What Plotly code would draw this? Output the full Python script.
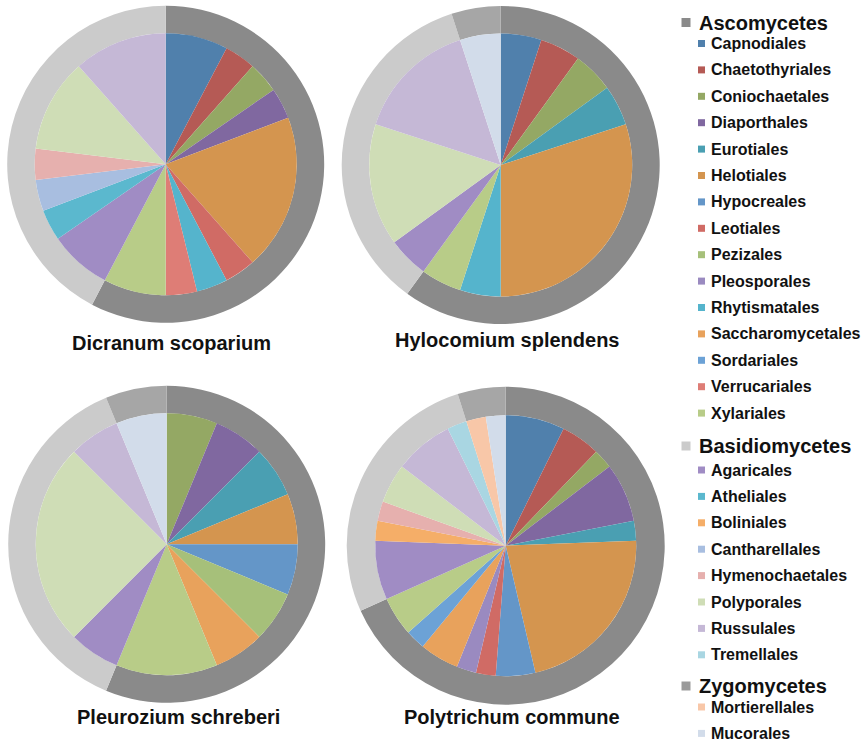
import plotly.graph_objects as go

W, H = 864, 741

orders = ["Capnodiales", "Chaetothyriales", "Coniochaetales", "Diaporthales", "Eurotiales",
          "Helotiales", "Hypocreales", "Leotiales", "Pezizales", "Pleosporales",
          "Rhytismatales", "Saccharomycetales", "Sordariales", "Verrucariales", "Xylariales",
          "Agaricales", "Atheliales", "Boliniales", "Cantharellales", "Hymenochaetales",
          "Polyporales", "Russulales", "Tremellales",
          "Mortierellales", "Mucorales"]
order_phylum = ["Ascomycetes"] * 15 + ["Basidiomycetes"] * 8 + ["Zygomycetes"] * 2
order_colors = ["#5080AC", "#B55A55", "#94A864", "#8068A0", "#4A9FB2",
                "#D4954F", "#6496C8", "#D06B65", "#A6C07A", "#9A8AC0",
                "#55B4CC", "#E8A25C", "#6CA2D6", "#DE7D76", "#B8CC88",
                "#A08CC4", "#5BB8CE", "#F5AE68", "#A8BEE0", "#E6B0AE",
                "#CFDDB6", "#C5B8D6", "#A9D6E2",
                "#F8C7A8", "#D2DCEA"]
phyla = ["Ascomycetes", "Basidiomycetes", "Zygomycetes"]
phylum_colors = ["#8A8A8A", "#CBCBCB", "#A6A6A6"]
phylum_legend_colors = ["#8A8A8A", "#CBCBCB", "#9A9A9A"]

mosses = ["Dicranum scoparium", "Hylocomium splendens", "Pleurozium schreberi", "Polytrichum commune"]

# counts per order (same order as `orders`)
dicranum =    [2, 1, 1, 1, 0, 5, 0, 1, 0, 0, 1, 0, 0, 1, 2, 2, 1, 0, 1, 1, 3, 3, 0, 0, 0]
hylocomium =  [1, 1, 1, 0, 1, 6, 0, 0, 0, 0, 1, 0, 0, 0, 1, 1, 0, 0, 0, 0, 3, 3, 0, 0, 1]
pleurozium =  [0, 0, 1, 1, 1, 1, 1, 0, 1, 0, 0, 1, 0, 0, 2, 1, 0, 0, 0, 0, 4, 1, 0, 0, 1]
polytrichum = [3, 2, 1, 3, 1, 9, 2, 1, 0, 1, 0, 2, 1, 0, 2, 3, 0, 1, 0, 1, 2, 3, 1, 1, 1]
moss_values = [dicranum, hylocomium, pleurozium, polytrichum]

# layout (pixel geometry on the page)
centers = [(165.7, 164.3), (500.7, 165.0), (166.7, 544.3), (505.7, 545.7)]
r_outer = [158.5, 159.0, 158.5, 159.0]
r_inner = [131.0, 131.5, 131.0, 130.5]
title_pos = [(171, 343), (508, 340), (178, 717), (512, 717)]


def clamp(v):
    return min(1.0, max(0.0, v))


def px(x):
    return x / W


def py(y):
    return 1 - y / H


def dom(cx, cy, r):
    return dict(x=[clamp(px(cx - r)), clamp(px(cx + r))], y=[clamp(py(cy + r)), clamp(py(cy - r))])


fig = go.Figure()
for i, vals in enumerate(moss_values):
    cx, cy = centers[i]
    ph_vals = [sum(v for v, p in zip(vals, order_phylum) if p == ph) for ph in phyla]
    ro, ri = r_outer[i], r_inner[i]
    fig.add_trace(go.Pie(
        labels=phyla, values=ph_vals, sort=False, direction="clockwise", rotation=0,
        hole=ri / ro, domain=dom(cx, cy, ro), textinfo="none", showlegend=False,
        marker=dict(colors=phylum_colors, line=dict(width=0)), hoverinfo="label+value"))
    fig.add_trace(go.Pie(
        labels=orders, values=vals, sort=False, direction="clockwise", rotation=0,
        domain=dom(cx, cy, ri), textinfo="none", showlegend=False,
        marker=dict(colors=order_colors, line=dict(width=0)), hoverinfo="label+value"))

annotations = []
shapes = []
FONT = "Liberation Sans, Arial, sans-serif"

for name, (tx, ty) in zip(mosses, title_pos):
    annotations.append(dict(text="<b>%s</b>" % name, x=px(tx), y=py(ty), xref="paper", yref="paper",
                            xanchor="center", yanchor="middle", showarrow=False,
                            font=dict(family=FONT, size=20, color="#111111")))

# legend
header_y = {"Ascomycetes": 22.5, "Basidiomycetes": 446.0, "Zygomycetes": 686.0}
first_item_y = {"Ascomycetes": 43.5, "Basidiomycetes": 470.0, "Zygomycetes": 707.0}
step = 26.4


def add_sq(x0, yc, s, color):
    shapes.append(dict(type="rect", xref="paper", yref="paper", x0=px(x0), x1=px(x0 + s),
                       y0=py(yc + s / 2), y1=py(yc - s / 2),
                       fillcolor=color, line=dict(width=0)))


for ph, pc in zip(phyla, phylum_legend_colors):
    yc = header_y[ph]
    add_sq(681.5, yc, 9, pc)
    annotations.append(dict(text="<b>%s</b>" % ph, x=px(697), y=py(yc), xref="paper", yref="paper",
                            xanchor="left", yanchor="middle", showarrow=False,
                            font=dict(family=FONT, size=20, color="#111111")))
    k = 0
    for name, p, c in zip(orders, order_phylum, order_colors):
        if p != ph:
            continue
        yi = first_item_y[ph] + k * step
        add_sq(698, yi, 7, c)
        annotations.append(dict(text="<b>%s</b>" % name, x=px(709), y=py(yi), xref="paper", yref="paper",
                                xanchor="left", yanchor="middle", showarrow=False,
                                font=dict(family=FONT, size=16, color="#111111")))
        k += 1

fig.update_layout(width=W, height=H, autosize=False, margin=dict(l=0, r=0, t=0, b=0),
                  paper_bgcolor="white", plot_bgcolor="white",
                  annotations=annotations, shapes=shapes, showlegend=False)

fig.write_html("out.html", config={"displayModeBar": False},
               post_script="document.body.style.margin='0';document.body.style.overflow='hidden';")
